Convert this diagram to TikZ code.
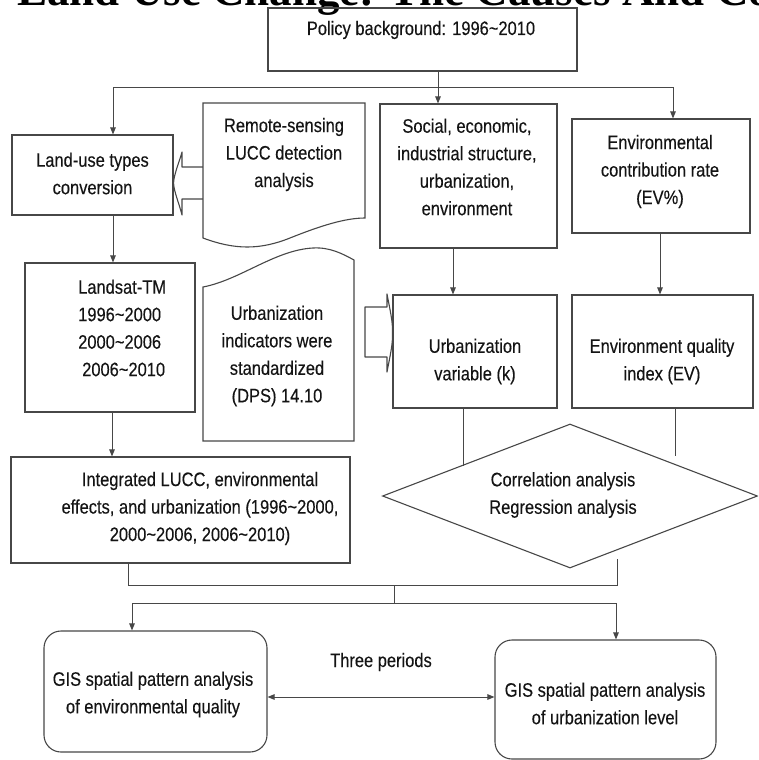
\documentclass[tikz,border=0pt]{standalone}
\usepackage{fontspec}
\setmainfont{Liberation Sans}[FakeStretch=0.845,FakeBold=0.25]
\newfontfamily\titlefont{Liberation Serif}
\usetikzlibrary{arrows.meta,shapes.geometric}
\newcommand\tld{\textasciitilde}
\begin{document}
\begin{tikzpicture}[x=1pt,y=-1pt,
 box/.style={draw=black!72, line width=1.1pt, inner sep=0pt, rectangle},
 ghost/.style={inner sep=0pt, rectangle},
 txt/.style={inner sep=0pt, align=center, text=black!92, font=\fontsize{19.5}{27.5}\selectfont},
 ln/.style={draw=black!72, line width=1pt},
 arr/.style={draw=black!72, line width=1pt, -{Triangle[length=7pt,width=5.5pt]}},
 darr/.style={draw=black!72, line width=1pt, {Triangle[length=7pt,width=5.5pt]}-{Triangle[length=7pt,width=5.5pt]}},
 blk/.style={draw=black!72, line width=1.1pt, line join=round}]
\useasboundingbox (0,0) rectangle (758,760);
\clip (0,0) rectangle (758,760);

% title (cut off at the top, as in the reference)
\node[anchor=base west, inner sep=0pt, text=black, font=\titlefont\bfseries\fontsize{45}{50}\selectfont] (title) at (17,6) {Land Use Change: The Causes And Co};

% boxes
\node[box, minimum width=309, minimum height=63] (policy) at (422.5,39.5) {};
\node[txt, anchor=base] (policyt) at (421,35) {Policy background: 1996\tld2010};

\node[box, minimum width=161, minimum height=80] (land) at (92.5,175) {};
\node[txt] (landt) at (92.5,173.5) {Land-use types\\conversion};

\node[ghost, minimum width=162, minimum height=144] (remote) at (284,175) {};
\draw[box] (203,103) -- (365,103) -- (365,218) .. controls (345,218) and (320,226) .. (290,238) .. controls (260,250) and (235,250) .. (203,238) -- cycle;
\node[txt] (remotet) at (284,154.5) {Remote-sensing\\LUCC detection\\analysis};

\node[box, minimum width=177, minimum height=144] (social) at (468.5,176) {};
\node[txt] (socialt) at (467,167) {Social, economic,\\industrial structure,\\urbanization,\\environment};

\node[box, minimum width=178, minimum height=114] (envc) at (661,176) {};
\node[txt] (envct) at (660,171.5) {Environmental\\contribution rate\\(EV\%)};

\node[box, minimum width=170, minimum height=149] (landsat) at (110,337.5) {};
\node[txt, align=left, anchor=west] (landsatt) at (78,328) {Landsat-TM\\1996\tld2000\\2000\tld2006\\\hspace*{4pt}2006\tld2010};

\node[ghost, minimum width=151, minimum height=194] (urbind) at (278.5,344) {};
\draw[box] (203,287) .. controls (240,280) and (275,250) .. (313,248) .. controls (330,247) and (343,254) .. (354,260) -- (354,441) -- (203,441) -- cycle;
\node[txt] (urbindt) at (277,356) {Urbanization\\indicators were\\standardized\\(DPS) 14.10};

\node[box, minimum width=164, minimum height=113] (urbvar) at (475,351.5) {};
\node[txt] (urbvart) at (475,361.5) {Urbanization\\variable (k)};

\node[box, minimum width=181, minimum height=113] (ev) at (662.5,351.5) {};
\node[txt] (evt) at (662,361.5) {Environment quality\\index (EV)};

\node[box, minimum width=339, minimum height=106] (integ) at (180.5,510) {};
\node[txt] (integt) at (200,508.5) {Integrated LUCC, environmental\\effects, and urbanization (1996\tld2000,\\2000\tld2006, 2006\tld2010)};

\node[draw=black!72, line width=1.1pt, diamond, inner sep=0pt, minimum width=375, minimum height=144] (diam) at (570,496) {};
\node[txt] (diamt) at (563,495) {Correlation analysis\\Regression analysis};

\node[box, rounded corners=17pt, minimum width=223, minimum height=121] (gis1) at (155.5,691.5) {};
\node[txt] (gis1t) at (153,694.5) {GIS spatial pattern analysis\\of environmental quality};

\node[box, rounded corners=17pt, minimum width=221, minimum height=119] (gis2) at (605.5,699.5) {};
\node[txt] (gis2t) at (605,703.5) {GIS spatial pattern analysis\\of urbanization level};

\node[txt, anchor=base] (three) at (381,667) {Three periods};

% connectors at the top
\coordinate (split1) at ([xshift=15.5]policy.south |- 0,87);
\draw[arr] ([xshift=15.5]policy.south) -- ([xshift=15.5]policy.south |- social.north);
\draw[arr] (split1) -| ([xshift=20.5]land.north);
\draw[arr] (split1) -| ([xshift=12]envc.north);
\draw[arr] ([xshift=20.5]land.south) -- ([xshift=20.5]land.south |- landsat.north);
\draw[arr] ([xshift=2]landsat.south) -- ([xshift=2]landsat.south |- integ.north);
\draw[arr] ([xshift=-15.5]social.south) -- ([xshift=-15.5]social.south |- urbvar.north);
\draw[arr] ([xshift=-1]envc.south) -- ([xshift=-1]envc.south |- ev.north);

% block arrows
\draw[blk] (remote.west |- 0,167) -- (182,167) -- (182,152) .. controls (179,163) and (174,174) .. (land.east |- 0,183) .. controls (174,192) and (179,203) .. (182,215) -- (182,199) -- (remote.west |- 0,199);
\draw[blk] (365,307) -- (387,307) -- (387,294) .. controls (390,310) and (393,322) .. (urbvar.west |- 0,333) .. controls (393,344) and (390,356) .. (387,372) -- (387,357) -- (365,357) -- cycle;

% lines into the diamond
\draw[ln] ([xshift=-12]urbvar.south) -- ++(0,57);
\draw[ln] ([xshift=12.5]ev.south) -- ++(0,47);

% lower connectors
\coordinate (dj) at (617,559);
\coordinate (m1) at (394,585);
\coordinate (m2) at (394,603);
\draw[ln] ([xshift=-52.5]integ.south) -- ++(0,22) -| (dj);
\draw[ln] (m1) -- (m2);
\draw[arr] (m2) -| ([xshift=-23.5]gis1.north);
\draw[arr] (m2) -| ([xshift=10.5]gis2.north);
\draw[darr] ([yshift=-5.5]gis1.east) -- ([yshift=-5.5]gis1.east -| gis2.west);
\end{tikzpicture}
\end{document}
